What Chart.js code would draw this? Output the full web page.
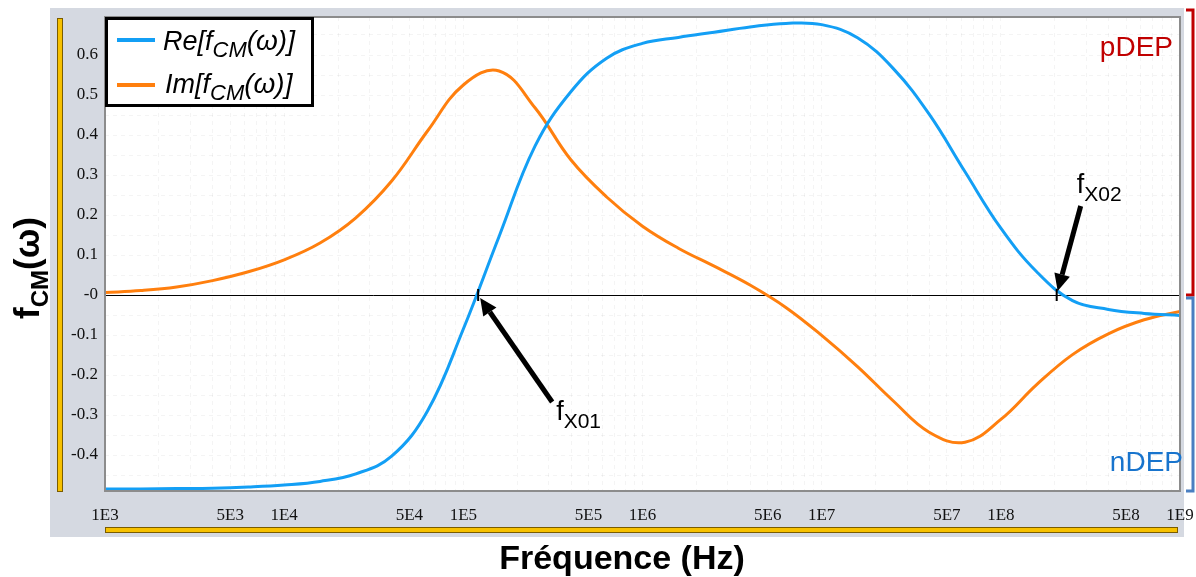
<!DOCTYPE html>
<html>
<head>
<meta charset="utf-8">
<script src="https://cdn.jsdelivr.net/npm/chart.js@4"></script>
<style>
  html, body { margin: 0; padding: 0; background: #fff; }
</style>
</head>
<body>
<canvas id="fcmChart" width="1196" height="577"></canvas>
<script>
// frequency points (Hz), five per decade, and the two parts of the CM factor
var freq = [1000, 1585, 2512, 3981, 6310,
  1e4, 15850, 25120, 39810, 63100,
  1e5, 158500, 251200, 398100, 631000,
  1e6, 1585000, 2512000, 3981000, 6310000,
  1e7, 15850000, 25120000, 39810000, 63100000,
  1e8, 158500000, 251200000, 398100000, 631000000,
  1e9];
var reFcm = [-0.485, -0.485, -0.484, -0.483, -0.480,
  -0.475, -0.466, -0.447, -0.403, -0.29,
  -0.085, 0.147, 0.372, 0.508, 0.592,
  0.629, 0.644, 0.657, 0.670, 0.679,
  0.676, 0.643, 0.566, 0.452, 0.308,
  0.167, 0.058, -0.014, -0.036, -0.046,
  -0.051];
var imFcm = [0.006, 0.011, 0.020, 0.036, 0.058,
  0.088, 0.13, 0.193, 0.285, 0.41,
  0.525, 0.56, 0.468, 0.338, 0.245,
  0.172, 0.117, 0.072, 0.025, -0.031,
  -0.101, -0.179, -0.265, -0.343, -0.368,
  -0.311, -0.224, -0.149, -0.097, -0.062,
  -0.041];

// crossover frequencies marked with arrows
var fx01 = 1.21e5;
var fx02 = 2.05e8;

var xTickVals = [1e3, 5e3, 1e4, 5e4, 1e5, 5e5, 1e6, 5e6, 1e7, 5e7, 1e8, 5e8, 1e9];
var xTickLabels = ['1E3', '5E3', '1E4', '5E4', '1E5', '5E5', '1E6', '5E6', '1E7', '5E7', '1E8', '5E8', '1E9'];
var yTickVals = [0.6, 0.5, 0.4, 0.3, 0.2, 0.1, 0, -0.1, -0.2, -0.3, -0.4];
var yTickLabels = ['0.6', '0.5', '0.4', '0.3', '0.2', '0.1', '-0', '-0.1', '-0.2', '-0.3', '-0.4'];

var blue = '#139ff5';
var orange = '#ff7f0e';

function findLabel(vals, labels, v) {
  for (var i = 0; i < vals.length; i++) {
    if (Math.abs(vals[i] - v) <= Math.abs(vals[i]) * 1e-6 + 1e-9) return labels[i];
  }
  return '';
}

// draws a run of [text, font, dy] pieces
function drawParts(ctx, parts, x, y, align) {
  var total = 0;
  parts.forEach(function (p) { ctx.font = p[1]; total += ctx.measureText(p[0]).width; });
  var cx = align === 'center' ? x - total / 2 : x;
  ctx.textAlign = 'left';
  ctx.textBaseline = 'alphabetic';
  parts.forEach(function (p) {
    ctx.font = p[1];
    ctx.fillText(p[0], cx, y + (p[2] || 0));
    cx += ctx.measureText(p[0]).width;
  });
  return total;
}

function arrow(ctx, x1, y1, x2, y2) {
  var ang = Math.atan2(y2 - y1, x2 - x1);
  var head = 17, half = 8;
  var bx = x2 - head * Math.cos(ang), by = y2 - head * Math.sin(ang);
  ctx.strokeStyle = '#000';
  ctx.fillStyle = '#000';
  ctx.lineWidth = 5;
  ctx.beginPath();
  ctx.moveTo(x1, y1);
  ctx.lineTo(bx, by);
  ctx.stroke();
  ctx.beginPath();
  ctx.moveTo(x2, y2);
  ctx.lineTo(bx + half * Math.sin(ang), by - half * Math.cos(ang));
  ctx.lineTo(bx - half * Math.sin(ang), by + half * Math.cos(ang));
  ctx.closePath();
  ctx.fill();
}

function yellowBar(ctx, x, y, w, h) {
  ctx.fillStyle = '#f7c100';
  ctx.fillRect(x, y, w, h);
  ctx.strokeStyle = '#7a5c00';
  ctx.lineWidth = 1;
  ctx.strokeRect(x + 0.5, y + 0.5, w - 1, h - 1);
}

var decor = {
  id: 'decor',
  beforeDraw: function (chart) {
    var ctx = chart.ctx, a = chart.chartArea;
    ctx.save();
    // grey frame panel
    ctx.fillStyle = '#d5d9e1';
    ctx.fillRect(50, 8, 1134, 529);
    ctx.fillStyle = '#fff';
    ctx.fillRect(a.left, a.top, a.right - a.left, a.bottom - a.top);
    yellowBar(ctx, 57, a.top + 1, 6, a.bottom - a.top);
    yellowBar(ctx, a.left, 527, a.right - a.left - 2, 6);

    // pDEP / nDEP brackets
    var y0 = chart.scales.y.getPixelForValue(0);
    ctx.lineWidth = 3;
    ctx.strokeStyle = '#c00000';
    ctx.beginPath();
    ctx.moveTo(1186, 10); ctx.lineTo(1193, 10); ctx.lineTo(1193, y0); ctx.lineTo(1186, y0);
    ctx.stroke();
    ctx.strokeStyle = '#4a7fc1';
    ctx.beginPath();
    ctx.moveTo(1186, y0 + 3); ctx.lineTo(1193, y0 + 3); ctx.lineTo(1193, a.bottom); ctx.lineTo(1186, a.bottom);
    ctx.stroke();

    // axis titles
    ctx.fillStyle = '#000';
    drawParts(ctx, [['Fréquence (Hz)', 'bold 34px "Liberation Sans"']], 622, 569, 'center');
    ctx.translate(39, 268);
    ctx.rotate(-Math.PI / 2);
    drawParts(ctx, [
      ['f', 'bold 35px "Liberation Sans"'],
      ['CM', 'bold 24px "Liberation Sans"', 9],
      ['(ω)', 'bold 35px "Liberation Sans"']
    ], 0, 0, 'center');
    ctx.restore();
  },
  beforeDatasetsDraw: function (chart) {
    var ctx = chart.ctx, a = chart.chartArea;
    var y0 = Math.round(chart.scales.y.getPixelForValue(0)) + 0.5;
    ctx.save();
    ctx.strokeStyle = '#000';
    ctx.lineWidth = 1;
    ctx.beginPath();
    ctx.moveTo(a.left, y0);
    ctx.lineTo(a.right, y0);
    ctx.stroke();
    ctx.restore();
  },
  afterDatasetsDraw: function (chart) {
    var ctx = chart.ctx, a = chart.chartArea;
    var xs = chart.scales.x, ys = chart.scales.y;
    ctx.save();
    // plot frame
    ctx.strokeStyle = '#8c8c8c';
    ctx.lineWidth = 2;
    ctx.strokeRect(a.left, a.top, a.right - a.left, a.bottom - a.top);

    // legend box
    ctx.fillStyle = '#fff';
    ctx.fillRect(a.left, a.top, 208, 89);
    ctx.strokeStyle = '#000';
    ctx.lineWidth = 3;
    ctx.strokeRect(a.left + 1.5, a.top + 1.5, 206, 87);
    ctx.lineWidth = 4;
    ctx.strokeStyle = blue;
    ctx.beginPath(); ctx.moveTo(117, 40); ctx.lineTo(155, 40); ctx.stroke();
    ctx.strokeStyle = orange;
    ctx.beginPath(); ctx.moveTo(117, 85); ctx.lineTo(155, 85); ctx.stroke();
    ctx.fillStyle = '#000';
    drawParts(ctx, [
      ['Re[f', 'italic 27px "Liberation Sans"'],
      ['CM', 'italic 22px "Liberation Sans"', 7],
      ['(ω)]', 'italic 28px "Liberation Sans"']
    ], 163, 50);
    drawParts(ctx, [
      ['Im[f', 'italic 27px "Liberation Sans"'],
      ['CM', 'italic 22px "Liberation Sans"', 7],
      ['(ω)]', 'italic 28px "Liberation Sans"']
    ], 165, 93);

    // crossover markers and arrows
    var p1x = xs.getPixelForValue(fx01), p2x = xs.getPixelForValue(fx02);
    var py = ys.getPixelForValue(0);
    ctx.strokeStyle = '#000';
    ctx.lineWidth = 2;
    ctx.beginPath();
    ctx.moveTo(p1x, py - 6); ctx.lineTo(p1x, py + 6);
    ctx.moveTo(p2x, py - 6); ctx.lineTo(p2x, py + 6);
    ctx.stroke();
    arrow(ctx, p1x + 74, py + 107, p1x + 2, py + 3);
    arrow(ctx, p2x + 24, py - 89, p2x + 1, py - 4);
    ctx.fillStyle = '#000';
    drawParts(ctx, [
      ['f', '27px "Liberation Sans"'],
      ['X01', '21px "Liberation Sans"', 8]
    ], p1x + 78, py + 125);
    drawParts(ctx, [
      ['f', '27px "Liberation Sans"'],
      ['X02', '21px "Liberation Sans"', 8]
    ], p2x + 20, py - 102);

    // region labels
    ctx.textAlign = 'right';
    ctx.textBaseline = 'alphabetic';
    ctx.font = '28px "Liberation Sans"';
    ctx.fillStyle = '#c00000';
    ctx.fillText('pDEP', 1173, 56);
    ctx.fillStyle = '#1874cd';
    ctx.fillText('nDEP', 1183, 471);
    ctx.restore();
  }
};

var ctx = document.getElementById('fcmChart').getContext('2d');
var fcmChart = new Chart(ctx, {
  type: 'line',
  data: {
    datasets: [{
      label: 'Re[fCM(ω)]',
      data: freq.map(function (f, i) { return { x: f, y: reFcm[i] }; }),
      borderColor: blue,
      borderWidth: 3,
      pointRadius: 0,
      tension: 0.4,
      fill: false
    }, {
      label: 'Im[fCM(ω)]',
      data: freq.map(function (f, i) { return { x: f, y: imFcm[i] }; }),
      borderColor: orange,
      borderWidth: 3,
      pointRadius: 0,
      tension: 0.4,
      fill: false
    }]
  },
  options: {
    responsive: false,
    animation: false,
    devicePixelRatio: 1,
    layout: { padding: { left: 0, top: 17, right: 16, bottom: 46 } },
    plugins: {
      legend: { display: false },
      tooltip: { enabled: false }
    },
    scales: {
      x: {
        type: 'logarithmic',
        min: 1e3,
        max: 1e9,
        afterBuildTicks: function (scale) {
          var t = [];
          for (var d = 1e3; d < 1e9; d *= 10) {
            for (var k = 1; k < 10; k++) t.push({ value: d * k });
          }
          t.push({ value: 1e9 });
          scale.ticks = t;
        },
        afterFit: function (scale) {
          scale.height = 40;
          scale.paddingLeft = 0;
          scale.paddingRight = 0;
        },
        grid: { color: 'rgba(0,0,0,0.045)', drawTicks: false },
        border: { display: false, dash: [4, 4] },
        ticks: {
          autoSkip: false,
          maxRotation: 0,
          minRotation: 0,
          padding: 14,
          color: '#111',
          font: { family: 'Liberation Serif', size: 17 },
          callback: function (v) { return findLabel(xTickVals, xTickLabels, v); }
        }
      },
      y: {
        min: -0.49,
        max: 0.695,
        afterBuildTicks: function (scale) {
          var t = [];
          for (var k = -9; k <= 13; k++) t.push({ value: k / 20 });
          scale.ticks = t;
        },
        afterFit: function (scale) {
          scale.width = 105;
          scale.paddingTop = 0;
          scale.paddingBottom = 0;
        },
        grid: { color: 'rgba(0,0,0,0.045)', drawTicks: false },
        border: { display: false, dash: [4, 4] },
        ticks: {
          autoSkip: false,
          padding: 7,
          color: '#111',
          font: { family: 'Liberation Serif', size: 17 },
          callback: function (v) { return findLabel(yTickVals, yTickLabels, v); }
        }
      }
    }
  },
  plugins: [decor]
});
</script>
</body>
</html>
